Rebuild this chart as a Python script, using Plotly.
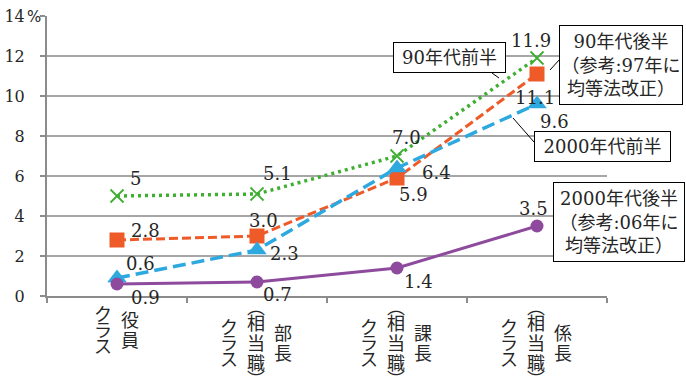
import plotly.graph_objects as go

# ---------------- data ----------------
categories = ["役員", "部長", "課長", "係長"]
series_names = ["90年代前半", "90年代後半", "2000年代前半", "2000年代後半"]
v_90a = [5.0, 5.1, 7.0, 11.9]
v_90b = [2.8, 3.0, 5.9, 11.1]
v_00a = [0.9, 2.3, 6.4, 9.6]
v_00b = [0.6, 0.7, 1.4, 3.5]
lbl_90a = ["5", "5.1", "7.0", "11.9"]
lbl_90b = ["2.8", "3.0", "5.9", "11.1"]
lbl_00a = ["0.6", "2.3", "6.4", "9.6"]
lbl_00b = ["0.9", "0.7", "1.4", "3.5"]
y_tickvals = [0, 2, 4, 6, 8, 10, 12, 14]
y_ticktext = ["0", "2", "4", "6", "8", "10", "12", "14"]
y_unit = "%"
cat_suffix = "クラス"
cat_middle = "︵相当職︶"
box_90a = "90年代前半"
box_90b = "90年代後半<br>（参考:97年に<br>均等法改正）"
box_00a = "2000年代前半"
box_00b = "2000年代後半<br>（参考:06年に<br>均等法改正）"

# ---------------- styles ----------------
SERIF = "DejaVu Serif, Noto Sans CJK JP"
CJK = "Noto Sans CJK JP"
TXT = "#262626"
GRID = "#A6A6A6"
AXIS = "#8C8C8C"

styles = [
    dict(color="#3FAF32", dash="3px,4px", width=3.5, symbol="x-thin", size=13),
    dict(color="#EE5A28", dash="9px,4px", width=3, symbol="square", size=15),
    dict(color="#2EA9E0", dash="13px,6px", width=3.5, symbol="triangle-up", size=17),
    dict(color="#8E4B9D", dash="solid", width=3, symbol="circle", size=13),
]
label_offsets = [
    [(18, -18), (20, -21), (9, -19), (-6, -18)],
    [(28, -10), (6, -16), (16, 16), (-2, 23)],
    [(23, -15), (27, 3), (39, 4), (17, 17)],
    [(28, 13), (20, 12), (21, 13), (-4, -18)],
]

# plot area in pixels
L, R, T, B = 47, 607, 16, 296
W, H = 686, 382


def px(xp):
    return (xp - L) / (R - L)


def py(yp):
    return (B - yp) / (B - T)


values = [v_90a, v_90b, v_00a, v_00b]
labels = [lbl_90a, lbl_90b, lbl_00a, lbl_00b]

fig = go.Figure()
for name, vals, st in zip(series_names, values, styles):
    marker = dict(symbol=st["symbol"], size=st["size"], color=st["color"])
    if st["symbol"] == "x-thin":
        marker["line"] = dict(color=st["color"], width=1.8)
    fig.add_trace(go.Scatter(
        x=categories, y=vals, name=name, mode="lines+markers",
        line=dict(color=st["color"], width=st["width"], dash=st["dash"]),
        marker=marker, cliponaxis=False, showlegend=False,
    ))

annotations = []
# data labels
for vals, lbls, offs in zip(values, labels, label_offsets):
    for c, v, t, (dx, dy) in zip(categories, vals, lbls, offs):
        annotations.append(dict(
            x=c, y=v, xref="x", yref="y", text=t, showarrow=False,
            xshift=dx, yshift=-dy, xanchor="center", yanchor="middle",
            font=dict(family=SERIF, size=18, color=TXT),
        ))

# % unit next to top tick
annotations.append(dict(
    x=px(34), y=py(17), xref="paper", yref="paper", text=y_unit,
    showarrow=False, xanchor="center", yanchor="middle",
    font=dict(family="DejaVu Sans", size=15, color=TXT),
))

# vertical category labels (one annotation per character)
def advance(ch):
    if ch in "︵︶":
        return 12
    if ch in "クラス":
        return 16
    return 20


for i, cat in enumerate(categories):
    if i == 0:
        cols = [cat_suffix, cat]
        xoffs = [-14, 13]
        center = 329
    else:
        cols = [cat_suffix, cat_middle, cat]
        xoffs = [-28, -1, 26]
        center = 342
    for col, xo in zip(cols, xoffs):
        total = sum(advance(ch) for ch in col)
        ypos = center - total / 2
        for ch in col:
            a = advance(ch)
            cy = ypos + a / 2
            ypos += a
            annotations.append(dict(
                x=cat, xref="x", y=0, yref="paper", yshift=-(cy - B),
                xshift=xo, text=ch, showarrow=False,
                xanchor="center", yanchor="middle",
                font=dict(family=CJK, size=18, color=TXT),
            ))

# callout boxes (left, top, width, height in px)
boxes = [
    (box_90a, 393, 42, 113, 31),
    (box_90b, 559, 25, 124, 80),
    (box_00a, 534, 131, 137, 31),
    (box_00b, 553, 182, 132, 80),
]
for text, bx, by, bw, bh in boxes:
    annotations.append(dict(
        x=px(bx), y=py(by), xref="paper", yref="paper", text=text,
        showarrow=False, xanchor="left", yanchor="top",
        width=bw - 2, height=bh - 2, borderpad=0, borderwidth=1,
        bordercolor="#000000", bgcolor="#FFFFFF", align="center", valign="middle",
        font=dict(family=SERIF, size=18, color=TXT),
    ))

# leader lines
leaders = [((492, 73), (499, 78)), ((550, 70), (560, 59)), ((513, 118), (534, 142))]
shapes = []
for (x0, y0), (x1, y1) in leaders:
    shapes.append(dict(type="line", xref="paper", yref="paper",
                       x0=px(x0), y0=py(y0), x1=px(x1), y1=py(y1),
                       line=dict(color="#000000", width=1)))

fig.update_layout(
    width=W, height=H, autosize=False,
    margin=dict(l=L, r=W - R, t=T, b=H - B, pad=0, autoexpand=False),
    paper_bgcolor="#FFFFFF", plot_bgcolor="#FFFFFF",
    annotations=annotations, shapes=shapes, showlegend=False,
)
fig.update_xaxes(
    type="category", categoryorder="array", categoryarray=categories,
    range=[-0.5, 3.5], showticklabels=False, showgrid=False,
    showline=True, linecolor=AXIS, linewidth=2,
    ticks="outside", tickson="boundaries", ticklen=5, tickcolor=AXIS, tickwidth=1.5,
)
fig.update_yaxes(
    range=[0, 14], tickvals=y_tickvals, ticktext=y_ticktext,
    showgrid=True, gridcolor=GRID, gridwidth=1.5, zeroline=False,
    showline=True, linecolor=AXIS, linewidth=2,
    ticks="outside", ticklen=5, tickcolor=AXIS, tickwidth=1.5,
    ticklabelstandoff=12,
    tickfont=dict(family=SERIF, size=16, color=TXT),
)

fig.write_html("out.html")
